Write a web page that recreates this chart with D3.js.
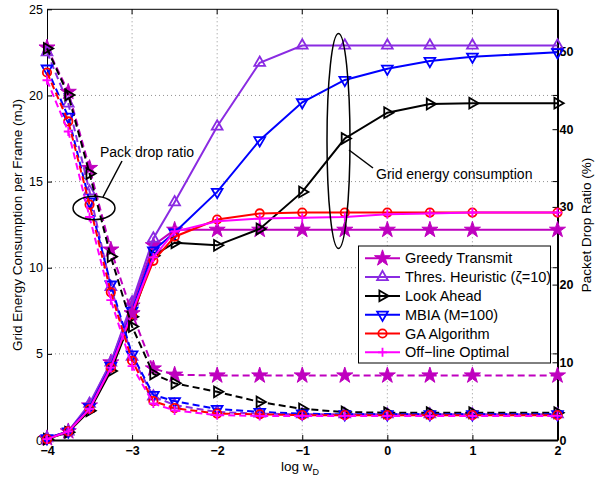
<!DOCTYPE html>
<html>
<head>
<meta charset="utf-8">
<script src="https://cdn.jsdelivr.net/npm/d3@7"></script>
<style>
  body { margin: 0; background: #fff; }
  text { font-family: "Liberation Sans", Arial, sans-serif; }
</style>
</head>
<body>
<script>
// x values (log w_D)
const logW = [-4, -3.75, -3.5, -3.25, -3, -2.75, -2.5, -2, -1.5, -1, -0.5, 0, 0.5, 1, 2];

// grid energy consumption per frame (mJ), left axis
const energyGreedy = [0.1, 0.5, 2.0, 4.5, 7.8, 11.3, 12.2, 12.2, 12.2, 12.2, 12.2, 12.2, 12.2, 12.2, 12.2];
const energyThres = [0.1, 0.5, 2.1, 4.5, 8.0, 11.7, 13.8, 18.2, 21.9, 22.9, 22.9, 22.9, 22.9, 22.9, 22.9];
const energyLook = [0.05, 0.45, 1.7, 4.0, 7.15, 10.7, 11.45, 11.3, 12.25, 14.4, 17.5, 19.0, 19.5, 19.55, 19.55];
const energyMbia = [0.1, 0.5, 1.9, 4.3, 7.5, 11.0, 12.05, 14.4, 17.4, 19.6, 20.9, 21.55, 22.0, 22.25, 22.5];
const energyGa = [0.05, 0.5, 1.8, 4.2, 7.3, 10.4, 11.8, 12.8, 13.15, 13.2, 13.2, 13.2, 13.2, 13.2, 13.2];
const energyOpt = [0.05, 0.5, 1.8, 4.2, 7.4, 10.6, 12.1, 12.7, 12.85, 12.9, 12.95, 13.1, 13.15, 13.2, 13.2];

// packet drop ratio (%), right axis
const dropGreedy = [50.5, 44.8, 35.0, 24.5, 16.3, 9.2, 8.4, 8.3, 8.3, 8.3, 8.3, 8.3, 8.3, 8.3, 8.3];
const dropThres = [49.9, 43.3, 32.0, 19.7, 10.7, 5.6, 4.5, 3.6, 3.4, 3.3, 3.3, 3.3, 3.3, 3.3, 3.3];
const dropLook = [50.4, 44.4, 34.3, 23.6, 14.6, 8.5, 7.3, 6.2, 4.9, 4.0, 3.6, 3.5, 3.5, 3.5, 3.5];
const dropMbia = [47.8, 41.6, 30.7, 20.0, 11.0, 5.8, 5.0, 4.0, 3.6, 3.4, 3.3, 3.3, 3.3, 3.3, 3.3];
const dropGa = [47.3, 41.0, 30.3, 19.0, 10.2, 5.0, 4.1, 3.4, 3.3, 3.2, 3.2, 3.2, 3.2, 3.2, 3.2];
const dropOpt = [46.3, 39.7, 28.7, 18.0, 9.5, 4.7, 3.8, 3.2, 3.1, 3.1, 3.1, 3.1, 3.1, 3.1, 3.1];

const xTicks = [-4, -3, -2, -1, 0, 1, 2];
const leftTicks = [0, 5, 10, 15, 20, 25];
const rightTicks = [0, 10, 20, 30, 40, 50];

const series = [
  { name: 'Greedy Transmit', color: '#bf00bf', marker: 'star', energy: energyGreedy, drop: dropGreedy },
  { name: 'Thres. Heuristic (\u03b6=10)', color: '#8a2be2', marker: 'up', energy: energyThres, drop: dropThres },
  { name: 'Look Ahead', color: '#000000', marker: 'right', energy: energyLook, drop: dropLook },
  { name: 'MBIA (M=100)', color: '#0000ff', marker: 'down', energy: energyMbia, drop: dropMbia },
  { name: 'GA Algorithm', color: '#ff0000', marker: 'circle', energy: energyGa, drop: dropGa },
  { name: 'Off\u2212line Optimal', color: '#ff00ff', marker: 'plus', energy: energyOpt, drop: dropOpt }
];

const W = 598, H = 478;
const plot = { left: 47, right: 557.5, top: 9.3, bottom: 440 };

const svg = d3.select('body').append('svg')
  .attr('width', W)
  .attr('height', H);

const x = d3.scaleLinear().domain([-4, 2]).range([plot.left, plot.right]);
const yL = d3.scaleLinear().domain([0, 25]).range([plot.bottom, plot.top]);
const yR = d3.scaleLinear().domain([0, 55.43]).range([plot.bottom, plot.top]);

// grid
const grid = svg.append('g').attr('stroke', '#777').attr('stroke-width', 0.8).attr('stroke-dasharray', '1,3');
xTicks.slice(1, -1).forEach(t => {
  grid.append('line').attr('x1', x(t)).attr('x2', x(t)).attr('y1', plot.top).attr('y2', plot.bottom);
});
leftTicks.slice(1, -1).forEach(t => {
  grid.append('line').attr('x1', plot.left).attr('x2', plot.right).attr('y1', yL(t)).attr('y2', yL(t));
});

// axes
const xAxis = d3.axisBottom(x).tickValues(xTicks).tickSizeInner(-5).tickSizeOuter(0)
  .tickFormat(d => d < 0 ? '\u2212' + Math.abs(d) : d);
const gx = svg.append('g').attr('transform', `translate(0,${plot.bottom})`).call(xAxis);
gx.select('.domain').attr('stroke-width', 2);
gx.selectAll('.tick line').attr('stroke-width', 1);
gx.selectAll('text').attr('font-size', 12.5).attr('font-weight', 'bold').attr('dy', '0.95em');

const yAxisL = d3.axisLeft(yL).tickValues(leftTicks).tickSizeInner(-5).tickSizeOuter(0);
const gyl = svg.append('g').attr('transform', `translate(${plot.left},0)`).call(yAxisL);
gyl.selectAll('text').attr('font-size', 12.5).attr('x', -4);

const yAxisR = d3.axisRight(yR).tickValues(rightTicks).tickSizeInner(-5).tickSizeOuter(0);
const gyr = svg.append('g').attr('transform', `translate(${plot.right},0)`).call(yAxisR);
gyr.select('.domain').attr('stroke-width', 2);
gyr.selectAll('text').attr('font-size', 12.5).attr('font-weight', 'bold').attr('x', 2);

// top border and mirrored ticks
svg.append('line').attr('x1', plot.left).attr('x2', plot.right).attr('y1', plot.top).attr('y2', plot.top)
  .attr('stroke', '#000');
leftTicks.slice(1, -1).forEach(t => {
  svg.append('line').attr('x1', plot.right - 5).attr('x2', plot.right).attr('y1', yL(t)).attr('y2', yL(t)).attr('stroke', '#000');
});
xTicks.slice(1, -1).forEach(t => {
  svg.append('line').attr('x1', x(t)).attr('x2', x(t)).attr('y1', plot.top).attr('y2', plot.top + 5).attr('stroke', '#000');
});

// markers
function markerPath(type) {
  if (type === 'star') return d3.symbol().type(d3.symbolStar).size(80)();
  if (type === 'circle') return d3.symbol().type(d3.symbolCircle).size(55)();
  if (type === 'plus') return 'M-4.5,0H4.5M0,-4.5V4.5';
  return d3.symbol().type(d3.symbolTriangle).size(50)();
}
function markerRot(type) {
  if (type === 'down') return 180;
  if (type === 'right') return 90;
  return 0;
}
function drawMarker(g, s, px, py) {
  const filled = s.marker === 'star';
  g.append('path')
    .attr('d', markerPath(s.marker))
    .attr('transform', `translate(${px},${py}) rotate(${markerRot(s.marker)})`)
    .attr('fill', filled ? s.color : 'none')
    .attr('stroke', s.color)
    .attr('stroke-width', filled ? 1 : 1.8);
}

const line = (yScale) => d3.line().x((d, i) => x(logW[i])).y(d => yScale(d));

// solid lines: energy (left axis)
series.forEach(s => {
  const g = svg.append('g');
  g.append('path').datum(s.energy)
    .attr('d', line(yL))
    .attr('fill', 'none').attr('stroke', s.color).attr('stroke-width', 2);
  s.energy.forEach((v, i) => drawMarker(g, s, x(logW[i]), yL(v)));
});

// dashed lines: drop ratio (right axis)
series.forEach(s => {
  const g = svg.append('g');
  g.append('path').datum(s.drop)
    .attr('d', line(yR))
    .attr('fill', 'none').attr('stroke', s.color).attr('stroke-width', 2)
    .attr('stroke-dasharray', '7,4');
  s.drop.forEach((v, i) => drawMarker(g, s, x(logW[i]), yR(v)));
});

// annotations
svg.append('ellipse').attr('cx', 94).attr('cy', 208).attr('rx', 21).attr('ry', 11.7)
  .attr('fill', 'none').attr('stroke', '#000').attr('stroke-width', 1.5);
svg.append('line').attr('x1', 103).attr('y1', 197).attr('x2', 122).attr('y2', 161)
  .attr('stroke', '#000').attr('stroke-width', 1.5);
svg.append('text').attr('x', 100).attr('y', 157).attr('font-size', 14).text('Pack drop ratio');

svg.append('ellipse').attr('cx', 338.5).attr('cy', 141).attr('rx', 11.5).attr('ry', 107.5)
  .attr('fill', 'none').attr('stroke', '#000').attr('stroke-width', 1.5);
svg.append('line').attr('x1', 349).attr('y1', 150).attr('x2', 373).attr('y2', 168)
  .attr('stroke', '#000').attr('stroke-width', 1.5);
svg.append('text').attr('x', 376).attr('y', 179).attr('font-size', 14).text('Grid energy consumption');

// axis titles
svg.append('text').attr('transform', 'translate(22,225) rotate(-90)')
  .attr('text-anchor', 'middle').attr('font-size', 13.5).text('Grid Energy Consumption per Frame (mJ)');
svg.append('text').attr('transform', 'translate(591,225) rotate(-90)')
  .attr('text-anchor', 'middle').attr('font-size', 13.5).text('Packet Drop Ratio (%)');
const xl = svg.append('text').attr('x', 300).attr('y', 471).attr('text-anchor', 'middle').attr('font-size', 13.5);
xl.append('tspan').text('log w');
xl.append('tspan').attr('font-size', 9).attr('dy', 4).text('D');

// legend
const leg = svg.append('g');
leg.append('rect').attr('x', 358.5).attr('y', 246).attr('width', 192).attr('height', 117)
  .attr('fill', '#fff').attr('stroke', '#000').attr('stroke-width', 1);
series.forEach((s, i) => {
  const ly = 258.3 + i * 18.8;
  leg.append('line').attr('x1', 365).attr('x2', 400).attr('y1', ly).attr('y2', ly)
    .attr('stroke', s.color).attr('stroke-width', 2);
  drawMarker(leg, s, 382.5, ly);
  leg.append('text').attr('x', 405).attr('y', ly + 5).attr('font-size', 14.5).text(s.name);
});
</script>
</body>
</html>
